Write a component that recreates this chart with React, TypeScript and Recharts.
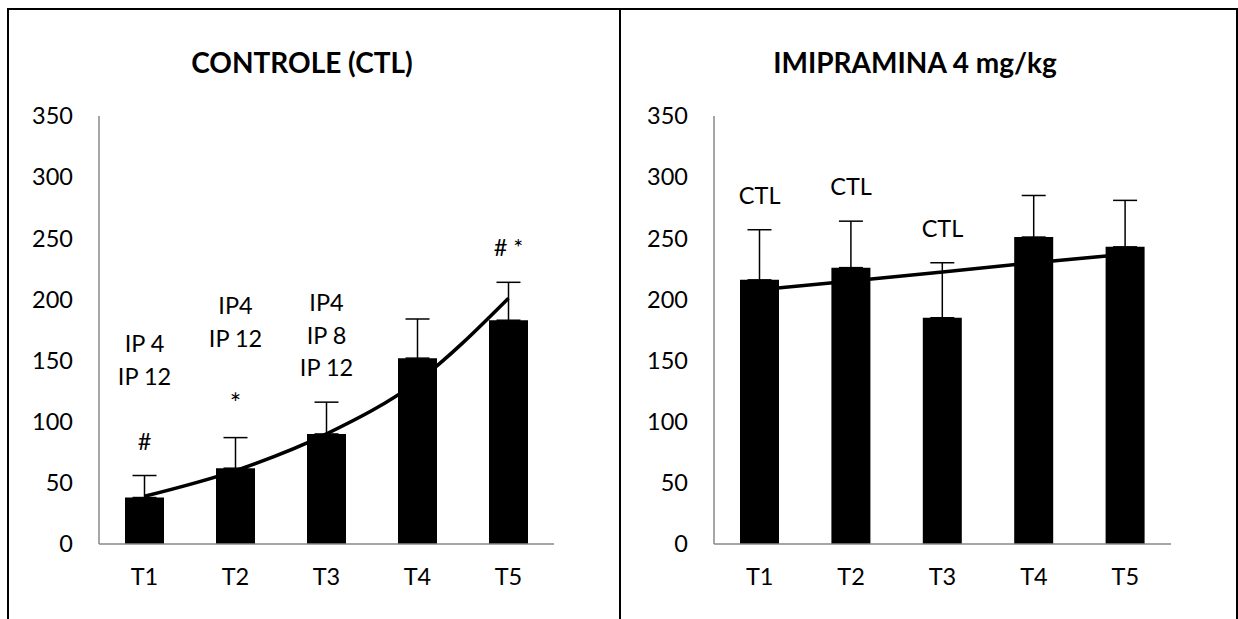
import {
  Bar,
  ComposedChart,
  ErrorBar,
  LabelList,
  Line,
  XAxis,
  YAxis,
} from "recharts";

const categories = ["T1", "T2", "T3", "T4", "T5"];
const yTicks = [0, 50, 100, 150, 200, 250, 300, 350];

const ctlMeans = [38, 62, 90, 152, 183];
const ctlErrors = [18, 25, 26, 32, 31];
const ctlTrend = [39, 60, 90, 133, 201];
const ctlNotes = [["IP 4", "IP 12", "", "#"], ["IP4", "IP 12", "", "*"], ["IP4", "IP 8", "IP 12"], [], ["# *"]];

const impMeans = [216, 226, 185, 251, 243];
const impErrors = [41, 38, 45, 34, 38];
const impTrend = [208, 215, 222.5, 230, 237];
const impNotes = [["CTL"], ["CTL"], ["CTL"], [], []];

const FONT = "Lato, 'Open Sans', sans-serif";
const AXIS = { stroke: "#898989", strokeWidth: 1.5 };

function buildRows(means: number[], errors: number[], trend: number[]) {
  return categories.map((cat, i) => ({
    cat,
    mean: means[i],
    err: [0, errors[i]],
    top: means[i] + errors[i],
    trend: trend[i],
  }));
}

function notesLabel(notes: string[][]) {
  return (props: any) => {
    const lines = notes[props.index] || [];
    const n = lines.length;
    return (
      <g>
        {lines.map((t, i) => (
          <text
            key={i}
            x={props.x}
            y={props.y - 35 - (n - 1 - i) * 32.5}
            textAnchor="middle"
            dominantBaseline="central"
            fontFamily={FONT}
            fontSize={t === "*" ? 27 : 23.5}
            fill="#000"
          >
            {t}
          </text>
        ))}
      </g>
    );
  };
}

type PanelProps = {
  title: string;
  titleX: number;
  rows: ReturnType<typeof buildRows>;
  notes: string[][];
  smooth: boolean;
  width: number;
  axisWidth: number;
};

function Panel({ title, titleX, rows, notes, smooth, width, axisWidth }: PanelProps) {
  return (
    <div style={{ position: "relative", width, height: 609 }}>
      <div
        style={{
          position: "absolute",
          left: titleX - 200,
          width: 400,
          top: 35,
          textAlign: "center",
          fontFamily: FONT,
          fontWeight: 700,
          fontSize: 28,
          color: "#000",
        }}
      >
        {title}
      </div>
      <ComposedChart
        width={width}
        height={609}
        data={rows}
        margin={{ top: 106, right: 65, bottom: 0, left: 0 }}
        style={{ position: "absolute", left: 0, top: 0 }}
      >
        <XAxis
          dataKey="cat"
          axisLine={AXIS}
          tickLine={false}
          tickSize={0}
          tickMargin={24}
          height={75}
          tick={{ fill: "#000", fontSize: 23.5, fontFamily: FONT }}
        />
        <YAxis
          type="number"
          domain={[0, 350]}
          ticks={yTicks}
          interval={0}
          axisLine={AXIS}
          tickLine={false}
          tickSize={0}
          tickMargin={26}
          width={axisWidth}
          tick={{ fill: "#000", fontSize: 23.5, fontFamily: FONT }}
        />
        <Bar dataKey="mean" fill="#000" barSize={39} isAnimationActive={false}>
          <ErrorBar dataKey="err" width={12} stroke="#000" strokeWidth={1.5} />
        </Bar>
        <Line
          dataKey="trend"
          type={smooth ? "monotone" : "linear"}
          stroke="#000"
          strokeWidth={3.5}
          dot={false}
          activeDot={false}
          isAnimationActive={false}
        />
        <Line
          dataKey="top"
          stroke="none"
          dot={false}
          activeDot={false}
          isAnimationActive={false}
        >
          <LabelList dataKey="top" content={notesLabel(notes)} />
        </Line>
      </ComposedChart>
    </div>
  );
}

export default function App() {
  const ctlRows = buildRows(ctlMeans, ctlErrors, ctlTrend);
  const impRows = buildRows(impMeans, impErrors, impTrend);
  return (
    <div style={{ position: "relative", width: 1238, height: 619, overflow: "hidden", background: "#fff" }}>
      <style>{`body{margin:0}`}</style>
      <div style={{ position: "absolute", left: 7, top: 8, width: 610, height: 700, border: "2px solid #000" }} />
      <div style={{ position: "absolute", left: 619, top: 8, width: 615, height: 700, border: "2px solid #000" }} />
      <div style={{ position: "absolute", left: 9, top: 10 }}>
        <Panel title="CONTROLE (CTL)" titleX={293} rows={ctlRows} notes={ctlNotes} smooth width={610} axisWidth={90} />
      </div>
      <div style={{ position: "absolute", left: 621, top: 10 }}>
        <Panel title="IMIPRAMINA 4 mg/kg" titleX={294} rows={impRows} notes={impNotes} smooth={false} width={615} axisWidth={93} />
      </div>
    </div>
  );
}
